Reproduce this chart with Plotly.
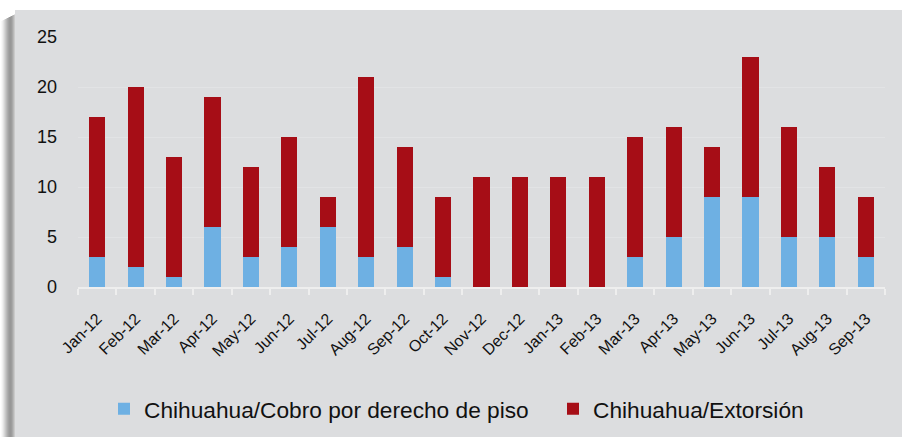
"""Chihuahua: cobro de piso y extorsión por mes (barras apiladas)."""

import plotly.graph_objects as go

meses = ["Jan-12", "Feb-12", "Mar-12", "Apr-12", "May-12", "Jun-12", "Jul-12",
         "Aug-12", "Sep-12", "Oct-12", "Nov-12", "Dec-12", "Jan-13", "Feb-13",
         "Mar-13", "Apr-13", "May-13", "Jun-13", "Jul-13", "Aug-13", "Sep-13"]
cobro_piso = [3, 2, 1, 6, 3, 4, 6, 3, 4, 1, 0, 0, 0, 0, 3, 5, 9, 9, 5, 5, 3]
extorsion = [14, 18, 12, 13, 9, 11, 3, 18, 10, 8, 11, 11, 11, 11, 12, 11, 5, 14, 11, 7, 6]
y_ticks = [0, 5, 10, 15, 20, 25]

FONT = "Liberation Sans, Arial, sans-serif"

W, H = 902, 437
L, T, B, R = 78, 37, 150, 17
PW, PH = W - L - R, H - T - B


def px_x(x):
    return (x - L) / PW


def px_y(y):
    return (T + PH - y) / PH


fig = go.Figure()
fig.add_trace(go.Bar(x=meses, y=cobro_piso, name="Chihuahua/Cobro por derecho de piso",
                     marker=dict(color="#6eb0e3", line=dict(width=0)), legend="legend"))
fig.add_trace(go.Bar(x=meses, y=extorsion, name="Chihuahua/Extorsión",
                     marker=dict(color="#a60d16", line=dict(width=0)), legend="legend2"))

# gray panel with a soft shadow along its left edge
shapes = []
shadow = ["#ffffff", "#f9f9f9", "#f0f0f0", "#e4e4e4", "#d6d6d6", "#c8c8c8", "#bababa",
          "#adadad", "#a2a2a2", "#9a9a9a", "#979797", "#9c9c9c", "#a8a8a8", "#b8b8b8", "#cacaca"]
for i, c in enumerate(shadow):
    shapes.append(dict(type="rect", xref="paper", yref="paper", layer="below",
                       x0=px_x(i), x1=px_x(i + 1), y0=-0.8, y1=px_y(14 + (15 - i) * 0.5),
                       line=dict(width=0), fillcolor=c))
shapes.append(dict(type="rect", xref="paper", yref="paper", layer="below",
                   x0=px_x(15), x1=1.2, y0=-0.8, y1=px_y(10),
                   line=dict(width=0), fillcolor="#dcdddf"))

legend_style = dict(orientation="h", y=px_y(409), yanchor="middle", xanchor="left",
                    font=dict(size=22.7, family=FONT), bgcolor="rgba(0,0,0,0)", itemwidth=30)

fig.update_layout(
    barmode="stack",
    bargap=0.58,
    width=W, height=H,
    margin=dict(l=L, r=R, t=T, b=B, autoexpand=False),
    paper_bgcolor="white",
    plot_bgcolor="rgba(0,0,0,0)",
    font=dict(family=FONT, color="#111111"),
    shapes=shapes,
    showlegend=True,
    legend=dict(legend_style, x=px_x(104)),
    legend2=dict(legend_style, x=px_x(553)),
)

fig.update_xaxes(
    tickangle=-45, tickfont=dict(size=16, family=FONT),
    showline=True, linecolor="#eeeeee", linewidth=2,
    ticks="outside", tickson="boundaries", ticklen=6, tickcolor="#eeeeee", tickwidth=2,
    ticklabelstandoff=14, showgrid=False, automargin=False,
)
fig.update_yaxes(
    range=[0, 25], tickvals=y_ticks, tickfont=dict(size=18, family=FONT),
    showgrid=True, gridcolor="#e2e3e5", gridwidth=1, zeroline=False,
    showline=False, ticks="", ticklabelstandoff=20, automargin=False,
)

# the page keeps the figure flush with the window edges
fig.write_html("out.html", config={"displayModeBar": False},
               post_script="document.body.style.margin='0';")
